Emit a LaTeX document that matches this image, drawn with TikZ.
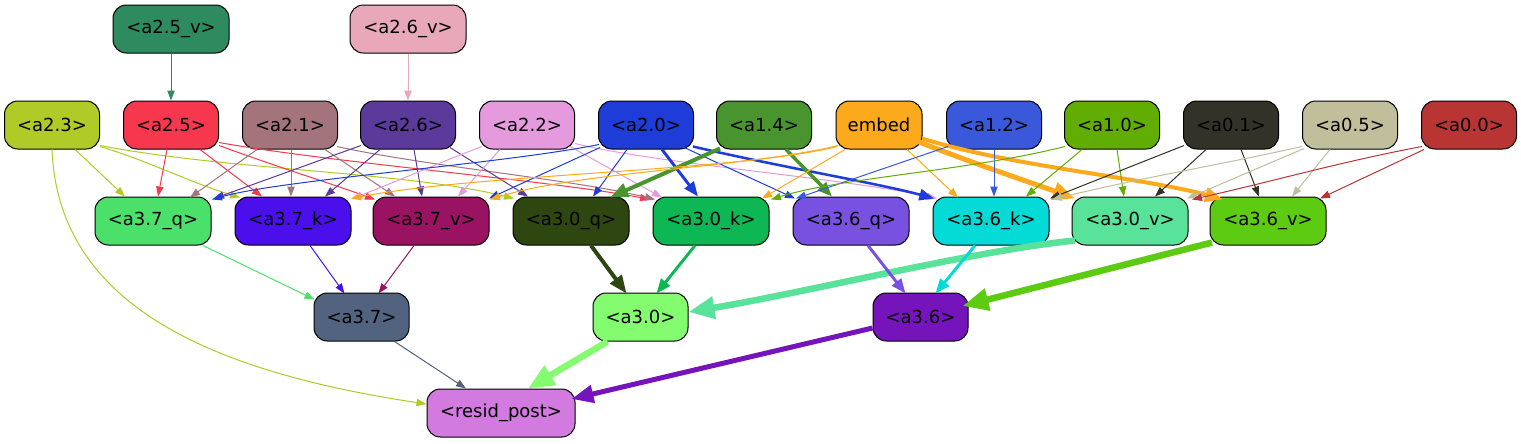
\documentclass[tikz,border=0pt]{standalone}
\usepackage{fontspec}
\setmainfont{DejaVu Sans}
\usetikzlibrary{calc,arrows.meta}
\definecolor{c23}{HTML}{B0CB27}
\definecolor{c25}{HTML}{F7374E}
\definecolor{c21}{HTML}{A3747B}
\definecolor{c26}{HTML}{5C3A9C}
\definecolor{c22}{HTML}{E69ADE}
\definecolor{c20}{HTML}{1E3CD8}
\definecolor{c14}{HTML}{4A9430}
\definecolor{cemb}{HTML}{FCAA1C}
\definecolor{c12}{HTML}{3A58DA}
\definecolor{c10}{HTML}{62AD03}
\definecolor{c01}{HTML}{333228}
\definecolor{c05}{HTML}{C0BE9B}
\definecolor{c00}{HTML}{B83534}
\definecolor{c25v}{HTML}{2E8A5F}
\definecolor{c26v}{HTML}{E9A8BA}
\definecolor{c37q}{HTML}{4AE06A}
\definecolor{c37k}{HTML}{4A0FEA}
\definecolor{c37v}{HTML}{9A1262}
\definecolor{c30q}{HTML}{2E4610}
\definecolor{c30k}{HTML}{0DB753}
\definecolor{c36q}{HTML}{7851E0}
\definecolor{c36k}{HTML}{04DAD6}
\definecolor{c30v}{HTML}{59E39A}
\definecolor{c36v}{HTML}{5DCB12}
\definecolor{c37}{HTML}{51637E}
\definecolor{c30}{HTML}{84FC6F}
\definecolor{c36}{HTML}{7614BC}
\definecolor{cres}{HTML}{D37AE1}
\tikzset{
  nd/.style={draw=black, line width=0.75pt, rounded corners=10pt, minimum height=36pt,
    minimum width=71.25pt, inner sep=0pt, text=black, font=\fontsize{13.5}{16}\selectfont},
  ndw/.style={nd, minimum width=87pt},
  e1/.style={line width=0.75pt, -{Triangle[length=7.5pt,width=5.5pt]}},
  e3/.style={line width=2.2pt, -{Triangle[length=11pt,width=8.5pt]}},
  e4/.style={line width=3pt, -{Triangle[length=13.5pt,width=10.5pt]}},
  e5/.style={line width=3.75pt, -{Triangle[length=16.5pt,width=13pt]}},
  e6/.style={line width=4.9pt, -{Triangle[length=19.5pt,width=16pt]}},
}
\begin{document}
\begin{tikzpicture}[x=0.75pt,y=-0.75pt]
\useasboundingbox (0,0) rectangle (1521,443);
\fill[white] (0,0) rectangle (1521,443);
% top
\node[ndw,fill=c25v] (a25v) at (171,29) {<a2.5\_v>};
\node[ndw,fill=c26v] (a26v) at (408,29) {<a2.6\_v>};
% row 1
\node[nd,fill=c23] (a23) at (52,125) {<a2.3>};
\node[nd,fill=c25] (a25) at (171,125) {<a2.5>};
\node[nd,fill=c21] (a21) at (290,125) {<a2.1>};
\node[nd,fill=c26] (a26) at (408,125) {<a2.6>};
\node[nd,fill=c22] (a22) at (527,125) {<a2.2>};
\node[nd,fill=c20] (a20) at (646,125) {<a2.0>};
\node[nd,fill=c14] (a14) at (764,125) {<a1.4>};
\node[nd,fill=cemb,minimum width=64.5pt] (emb) at (879,125) {embed};
\node[nd,fill=c12] (a12) at (994,125) {<a1.2>};
\node[nd,fill=c10] (a10) at (1112,125) {<a1.0>};
\node[nd,fill=c01] (a01) at (1231,125) {<a0.1>};
\node[nd,fill=c05] (a05) at (1350,125) {<a0.5>};
\node[nd,fill=c00] (a00) at (1469,125) {<a0.0>};
% row 2
\node[ndw,fill=c37q] (a37q) at (153,221) {<a3.7\_q>};
\node[ndw,fill=c37k] (a37k) at (293,221) {<a3.7\_k>};
\node[ndw,fill=c37v] (a37v) at (431,221) {<a3.7\_v>};
\node[ndw,fill=c30q] (a30q) at (571,221) {<a3.0\_q>};
\node[ndw,fill=c30k] (a30k) at (711,221) {<a3.0\_k>};
\node[ndw,fill=c36q] (a36q) at (851,221) {<a3.6\_q>};
\node[ndw,fill=c36k] (a36k) at (991,221) {<a3.6\_k>};
\node[ndw,fill=c30v] (a30v) at (1130,221) {<a3.0\_v>};
\node[ndw,fill=c36v] (a36v) at (1268,221) {<a3.6\_v>};
% row 3
\node[nd,fill=c37] (a37) at (361.5,317) {<a3.7>};
\node[nd,fill=c30] (a30) at (640.5,317) {<a3.0>};
\node[nd,fill=c36] (a36) at (920.5,317) {<a3.6>};
% row 4
\node[nd,fill=cres,minimum width=111pt] (res) at (501,413) {<resid\_post>};

% edges from top
\draw[e1,c25v] (a25v.south) -- (a25.north);
\draw[e1,c26v] (a26v.south) -- (a26.north);
% a2.3
\draw[e1,c23] ($(a23.south)+(23,0)$) -- ($(a37q.north)+(-28,0)$);
\draw[e1,c23] ($(a23.south)+(48,-3)$) .. controls +(50,15) and +(-50,-15) .. ($(a37k.north)+(-53,1)$);
\draw[e1,c23] ($(a23.south)+(48,-4)$) .. controls +(130,25) and +(-109,-27) .. ($(a30q.north)+(-57,2)$);
\draw[e1,c23] (a23.south) .. controls +(6,150) and +(-227,-34) .. ($(res.west)+(0,-9)$);
% a2.5
\draw[e1,c25] ($(a25.south)+(-4,0)$) -- ($(a37q.north)+(5,0)$);
\draw[e1,c25] ($(a25.south)+(29,0)$) -- ($(a37k.north)+(-31,0)$);
\draw[e1,c25] ($(a25.south)+(48,-4)$) .. controls +(60,22) and +(-50,-18) .. ($(a37v.north)+(-56,3)$);
\draw[e1,c25] ($(a25.south)+(48,-7)$) .. controls +(111,20) and +(-90,-18) .. ($(a30k.north)+(-61,3)$);
% a2.1
\draw[e1,c21] ($(a21.south)+(-33,0)$) -- ($(a37q.north)+(37,1)$);
\draw[e1,c21] ($(a21.south)+(1,0)$) -- ($(a37k.north)+(-2,0)$);
\draw[e1,c21] ($(a21.south)+(35,0)$) -- ($(a37v.north)+(-36,0)$);
\draw[e1,c21] ($(a21.south)+(47,-3)$) .. controls +(90,20) and +(-80,-20) .. ($(a30k.north)+(-56,3)$);
% a2.6
\draw[e1,c26] ($(a26.south)+(-47,-4)$) -- ($(a37q.north)+(61,2)$);
\draw[e1,c26] ($(a26.south)+(-28,0)$) -- ($(a37k.north)+(32,0)$);
\draw[e1,c26] ($(a26.south)+(6,0)$) -- ($(a37v.north)+(-9,0)$);
\draw[e1,c26] ($(a26.south)+(42,-2)$) -- ($(a30q.north)+(-43,0)$);
% a2.2
\draw[e1,c22] ($(a22.south)+(-45,-3)$) .. controls +(-40,15) and +(40,-15) .. ($(a37k.north)+(59,2)$);
\draw[e1,c22] ($(a22.south)+(-27,0)$) -- ($(a37v.north)+(27,0)$);
\draw[e1,c22] ($(a22.south)+(43,-3)$) -- ($(a30k.north)+(-49,1)$);
\draw[e1,c22] ($(a22.south)+(48,-6)$) .. controls +(80,20) and +(-90,-20) .. ($(a36k.north)+(-54,2)$);
% a2.0
\draw[e1,c20] ($(a20.south)+(-47,-5)$) .. controls +(-100,20) and +(70,-20) .. ($(a37q.north)+(59,3)$);
\draw[e1,c20] ($(a20.south)+(-46,-2)$) -- ($(a37v.north)+(58,2)$);
\draw[e1,c20] ($(a20.south)+(-19,0)$) -- ($(a30q.north)+(22,0)$);
\draw[e3,c20] ($(a20.south)+(16,0)$) -- ($(a30k.north)+(-13,0)$);
\draw[e1,c20] ($(a20.south)+(36,-3)$) -- ($(a36q.north)+(-56,2)$);
\draw[e3,c20,line width=1.9pt] ($(a20.south)+(47,-3)$) .. controls +(85,20) and +(-55,-15) .. ($(a36k.north)+(-57,2)$);
% a1.4
\draw[e4,c14] ($(a14.south)+(-44,-1)$) -- ($(a30q.north)+(39,1)$);
\draw[e3,c14,line width=2.6pt] ($(a14.south)+(22,0)$) -- ($(a36q.north)+(-19,0)$);
% embed
\draw[e1,cemb] ($(emb.south)+(-42,-3)$) .. controls +(-100,25) and +(130,-25) .. ($(a37k.north)+(58,2)$);
\draw[e1,cemb] ($(emb.south)+(-41,-4)$) .. controls +(-90,22) and +(90,-28) .. ($(a37v.north)+(59,3)$);
\draw[e1,cemb] ($(emb.south)+(-34,0)$) -- ($(a30k.north)+(51,2)$);
\draw[e1,cemb] ($(emb.south)+(28,0)$) -- ($(a36k.north)+(-33,1)$);
\draw[e5,cemb] ($(emb.south)+(39,-8)$) .. controls +(50,20) and +(-50,-18) .. ($(a30v.north)+(-55,2)$);
\draw[e4,cemb] ($(emb.south)+(43,-11)$) .. controls +(90,28) and +(-80,-22) .. ($(a36v.north)+(-45,3)$);
% a1.2
\draw[e1,c12] (a12.south) -- ($(a36k.north)+(3,0)$);
\draw[e1,c12] ($(a12.south)+(-46,-3)$) -- ($(a36q.north)+(-55,2)$);
% a1.0
\draw[e1,c10] ($(a10.south)+(-47,-3)$) .. controls +(-100,25) and +(70,-22) .. ($(a30k.north)+(60,3)$);
\draw[e1,c10] ($(a10.south)+(-30,0)$) -- ($(a36k.north)+(35,0)$);
\draw[e1,c10] ($(a10.south)+(5,0)$) -- ($(a30v.north)+(-6,0)$);
% a0.1
\draw[e1,c01] ($(a01.south)+(-47,-4)$) -- ($(a36k.north)+(59,2)$);
\draw[e1,c01] ($(a01.south)+(-25,0)$) -- ($(a30v.north)+(25,0)$);
\draw[e1,c01] ($(a01.south)+(10,0)$) -- ($(a36v.north)+(-9,0)$);
% a0.5
\draw[e1,c05] ($(a05.south)+(-48,-3)$) .. controls +(-80,18) and +(90,-22) .. ($(a36k.north)+(61,3)$);
\draw[e1,c05] ($(a05.south)+(-46,-1)$) -- ($(a30v.north)+(57,2)$);
\draw[e1,c05] ($(a05.south)+(-20,0)$) -- ($(a36v.north)+(24,0)$);
% a0.0
\draw[e1,c00] ($(a00.south)+(-47,-3)$) .. controls +(-80,15) and +(80,-18) .. ($(a30v.north)+(62,3)$);
\draw[e1,c00] ($(a00.south)+(-45,0)$) -- ($(a36v.north)+(52,2)$);
% to row 3
\draw[e1,c37q] ($(a37q.south)+(50,0)$) -- ($(a37.north)+(-47,7)$);
\draw[e1,c37k] ($(a37k.south)+(17,0)$) -- ($(a37.north)+(-17,1)$);
\draw[e1,c37v] ($(a37v.south)+(-17,0)$) -- ($(a37.north)+(17,1)$);
\draw[e4,c30q] ($(a30q.south)+(20,0)$) -- ($(a30.north)+(-14,1)$);
\draw[e3,c30k] ($(a30k.south)+(-16,0)$) -- ($(a30.north)+(16,1)$);
\draw[e6,c30v] ($(a30v.south)+(-55,-5)$) .. controls +(-100,10) and +(120,-20) .. ($(a30.east)+(0,-5)$);
\draw[e3,c36q] ($(a36q.south)+(17,0)$) -- ($(a36.north)+(-15,1)$);
\draw[e3,c36k] ($(a36k.south)+(-16,0)$) -- ($(a36.north)+(15,1)$);
\draw[e6,c36v] ($(a36v.south)+(-56,-3)$) -- ($(a36.east)+(-6,-11)$);
% to resid
\draw[e1,c37] ($(a37.south)+(33,0)$) -- ($(res.north)+(-35,0)$);
\draw[e6,c30] ($(a30.south)+(-33,0)$) -- ($(res.north)+(27,0)$);
\draw[e5,c36] ($(a36.west)+(0,11)$) -- ($(res.east)+(-4,-14)$);
\end{tikzpicture}
\end{document}
